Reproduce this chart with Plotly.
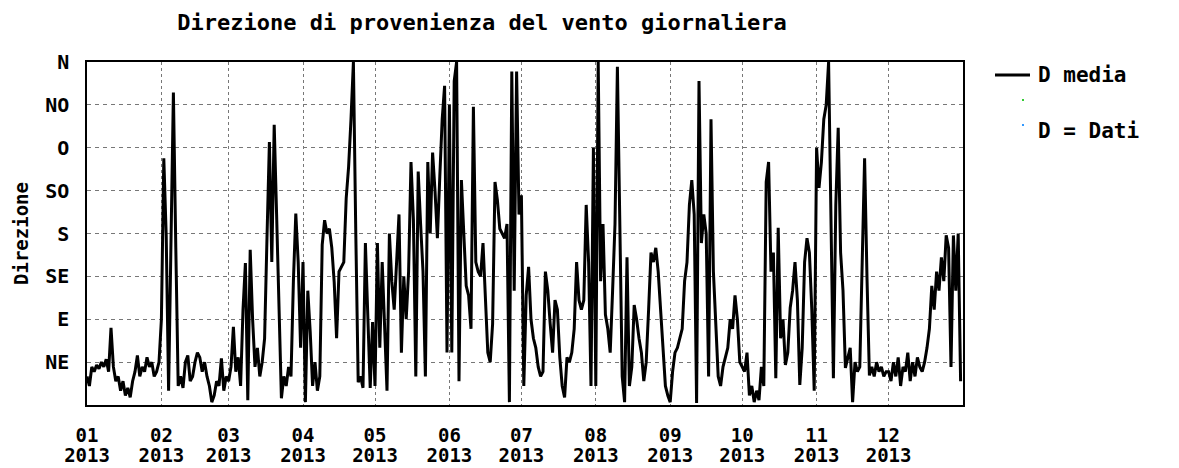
import pandas as pd
import plotly.graph_objects as go

# ---- data (degrees, daily mean wind direction 2013) ----
jan = [30,20,40,35,42,38,45,40,48,35,81,40,25,30,15,25,10,18,8,25,35,52,30,40,35,50,40,45,30,35,45]
feb = [90,259,178,15,200,328,165,20,30,18,45,52,25,30,45,55,50,35,45,30,20,3,10,25,20,49,15,30]
mar = [25,40,82,35,50,20,100,149,5,163,90,40,60,30,45,70,176,276,150,294,200,100,7,30,20,40,30,130,201,150,60]
apr = [150,3,120,77,20,45,15,30,168,194,180,185,165,129,70,140,145,150,217,250,300,360,180,24,30,18,170,100,18,87]
may = [20,170,60,150,80,15,180,130,100,145,200,55,135,90,140,255,195,30,245,190,140,30,255,180,265,225,175,240,300,335,55]
jun = [315,55,340,360,25,236,180,125,115,80,313,150,140,135,170,120,55,45,85,234,215,185,180,175,190,3,350,120,350,200]
jul = [220,20,115,145,90,70,60,40,30,35,140,120,85,55,110,100,50,20,8,50,45,55,80,150,110,100,110,210,150,20,270]
aug = [20,360,130,190,95,80,55,120,190,355,200,30,3,155,20,40,105,90,70,55,25,45,100,160,150,165,140,100,60,20,10]
sep = [3,35,55,60,70,80,130,150,210,236,200,2,340,170,200,180,30,300,140,90,30,20,40,50,60,90,80,115,90,45]
oct_ = [40,35,55,10,20,3,15,5,40,20,234,255,140,160,28,186,70,90,42,55,102,120,150,110,21,60,150,175,160,100,15]
nov = [270,228,255,300,315,360,200,28,210,291,160,120,39,50,60,3,45,35,40,150,259,133,31,40,30,45,35,40,30,35]
dec = [35,25,45,30,50,20,40,35,55,25,45,30,50,40,35,45,60,80,125,100,140,120,155,130,178,165,40,178,120,180,25]

direction_vals = [45, 90, 135, 180, 225, 270, 315, 360]
direction_labels = ["NE", "E", "SE", "S", "SO", "O", "NO", "N"]
month_ticks = ["2013-%02d-01" % m for m in range(1, 13)]
month_labels = ["%02d" % m for m in range(1, 13)]
year_labels = ["2013"] * 12

values = jan + feb + mar + apr + may + jun + jul + aug + sep + oct_ + nov + dec
dates = pd.date_range("2013-01-01", periods=len(values), freq="D")

FONT = "DejaVu Sans Mono"
OFF = 8                      # page body margin
W, H = 1179 - OFF, 468 - OFF
# plot-area edges in page pixels
L, R, T, B = 87, 963, 62, 405
X_RANGE = ["2013-01-01", "2014-01-01"]


def px(x):
    return (x - L) / (R - L)


def py(y):
    return (B - y) / (B - T)


fig = go.Figure()
fig.add_trace(go.Scatter(x=dates, y=values, mode="lines",
                         line=dict(color="black", width=3),
                         name="D media", showlegend=False))

fig.update_layout(
    width=W, height=H,
    margin=dict(l=L - OFF, r=W - (R - OFF), t=T - OFF, b=H - (B - OFF),
                autoexpand=False),
    paper_bgcolor="white", plot_bgcolor="white",
    font=dict(family=FONT, size=20, color="black"),
    title=dict(text="<b>Direzione di provenienza del vento giornaliera</b>",
               x=(482 - OFF) / W, xanchor="center",
               y=1 - (22 - OFF) / H, yanchor="middle",
               font=dict(family=FONT, size=22, color="black")),
    showlegend=False,
    xaxis2=dict(
        overlaying="x", side="bottom", anchor="y", type="date",
        range=X_RANGE, tickvals=month_ticks,
        ticktext=["<b>%s</b>" % t for t in year_labels],
        ticks="", ticklabelstandoff=37, automargin=False,
        showgrid=False, showline=False, zeroline=False,
        tickfont=dict(family=FONT, size=19, color="black"),
    ),
)

fig.layout.xaxis.update(
    range=X_RANGE,
    tickvals=month_ticks, ticktext=["<b>%s</b>" % t for t in month_labels],
    ticks="", ticklabelstandoff=12, automargin=False,
    showgrid=True, gridcolor="#777777", griddash="3px,3px", gridwidth=1,
    showline=True, linecolor="black", linewidth=1.5, mirror=True,
    zeroline=False,
    tickfont=dict(family=FONT, size=19, color="black"),
)
fig.update_yaxes(
    range=[0, 360],
    tickvals=direction_vals, ticktext=["<b>%s</b>" % t for t in direction_labels],
    ticks="", ticklabelstandoff=12, automargin=False,
    showgrid=True, gridcolor="#777777", griddash="4px,4px", gridwidth=1,
    showline=True, linecolor="black", linewidth=1.5, mirror=True,
    zeroline=False,
    title=dict(text="<b>Direzione</b>", standoff=12,
               font=dict(family=FONT, size=19, color="black")),
    tickfont=dict(family=FONT, size=20, color="black"),
)

# invisible trace so the second x axis (year row) is drawn
fig.add_trace(go.Scatter(x=[dates[0]], y=[None], xaxis="x2", yaxis="y",
                         mode="lines", showlegend=False, hoverinfo="skip"))

# legend (drawn manually)
fig.add_shape(type="line", xref="paper", yref="paper",
              x0=px(995), x1=px(1030), y0=py(75), y1=py(75),
              line=dict(color="black", width=3))
fig.add_annotation(xref="paper", yref="paper", x=px(1036), y=py(75),
                   text="<b>D media</b>", showarrow=False,
                   xanchor="left", yanchor="middle",
                   font=dict(family=FONT, size=21, color="black"))
fig.add_shape(type="rect", xref="paper", yref="paper",
              x0=px(1022), x1=px(1024), y0=py(101), y1=py(99),
              line=dict(width=0), fillcolor="#33cc33")
fig.add_shape(type="rect", xref="paper", yref="paper",
              x0=px(1022), x1=px(1024), y0=py(126), y1=py(124),
              line=dict(width=0), fillcolor="#3399ff")
fig.add_annotation(xref="paper", yref="paper", x=px(1036), y=py(131),
                   text="<b>D = Dati</b>", showarrow=False,
                   xanchor="left", yanchor="middle",
                   font=dict(family=FONT, size=21, color="black"))

fig.write_html("out.html")
